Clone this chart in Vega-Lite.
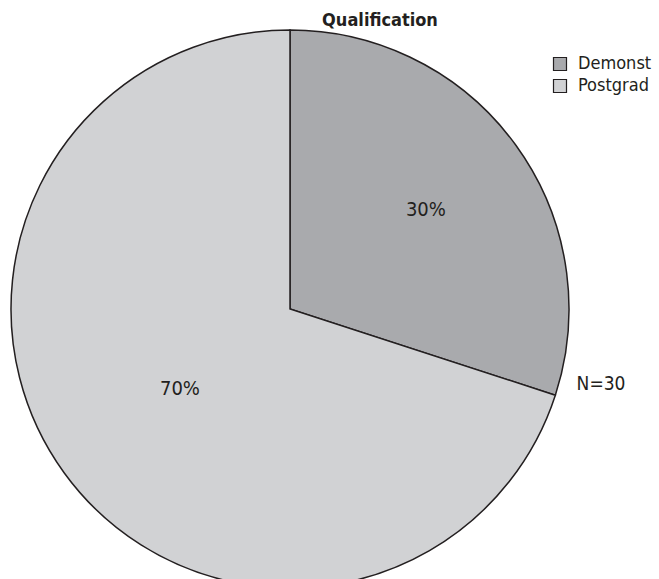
{
  "$schema": "https://vega.github.io/schema/vega-lite/v6.json",
  "width": 560,
  "height": 540,
  "autosize": {"type": "none"},
  "padding": {"left": 10, "top": 39, "right": 89, "bottom": 0},
  "background": "white",
  "title": {
    "text": "Qualification",
    "font": "DejaVu Sans Condensed",
    "fontSize": 18,
    "fontWeight": "bold",
    "color": "#231f20",
    "anchor": "middle",
    "dx": 90,
    "offset": -3
  },
  "data": {
    "values": [
      {"qualification": "Demonst", "count": 9, "pct": "30%"},
      {"qualification": "Postgrad", "count": 21, "pct": "70%"}
    ]
  },
  "encoding": {
    "theta": {"field": "count", "type": "quantitative", "stack": true},
    "color": {
      "field": "qualification",
      "type": "nominal",
      "scale": {"domain": ["Demonst", "Postgrad"], "range": ["#a9aaad", "#d1d2d4"]},
      "legend": {
        "title": null,
        "orient": "none",
        "legendX": 541,
        "legendY": 16,
        "symbolType": "square",
        "symbolSize": 169,
        "symbolStrokeColor": "#231f20",
        "symbolStrokeWidth": 1.2,
        "symbolOpacity": 1,
        "labelFont": "DejaVu Sans Condensed",
        "labelFontSize": 18,
        "labelColor": "#231f20",
        "labelOffset": 9,
        "rowPadding": 4
      }
    }
  },
  "layer": [
    {
      "mark": {"type": "arc", "outerRadius": 279, "stroke": "#231f20", "strokeWidth": 1.5, "opacity": 1}
    },
    {
      "mark": {
        "type": "text",
        "radius": {"expr": "datum.qualification === 'Demonst' ? 168 : 136"},
        "font": "DejaVu Sans Condensed",
        "fontSize": 20,
        "color": "#231f20"
      },
      "encoding": {"text": {"field": "pct"}, "color": {"value": "#231f20"}}
    },
    {
      "data": {"values": [{"note": "N=30"}]},
      "mark": {"type": "text", "theta": 1.808, "radius": 320, "font": "DejaVu Sans Condensed", "fontSize": 19, "color": "#231f20"},
      "encoding": {"text": {"field": "note"}, "theta": null, "color": null}
    }
  ]
}
